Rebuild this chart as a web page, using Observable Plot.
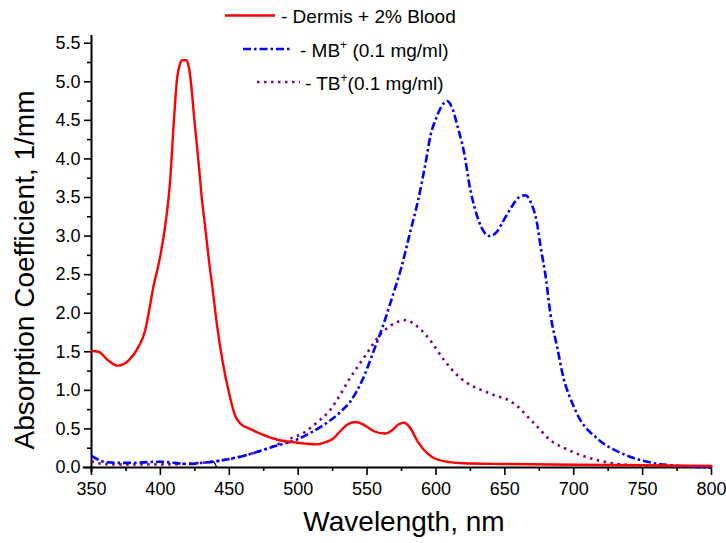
<!DOCTYPE html>
<html><head><meta charset="utf-8">
<script src="https://cdn.jsdelivr.net/npm/d3@7"></script>
<script src="https://cdn.jsdelivr.net/npm/@observablehq/plot@0.6"></script>
<style>body{margin:0;background:#fff;} svg{display:block}</style>
</head><body><div id="chart"></div>
<script>
// ---- data ----
const dermisWl  = [350,355,362,369,377,384,389,392,395,398,400,404,407,410,412,414,416,419,420.5,422,424.5,428,430,432.5,435,438,441,445,450,454.5,458,465,475,485,495,505,513,520,525,530,536,542,548,555,563,568,573,577,581,587,594,600,610,620,650,700,750,800];
const dermisAbs = [1.51,1.50,1.39,1.32,1.39,1.56,1.78,2.05,2.35,2.58,2.75,3.2,3.7,4.55,5.02,5.22,5.28,5.28,5.2,5.02,4.54,3.9,3.5,3.12,2.72,2.3,1.86,1.39,0.95,0.66,0.57,0.50,0.42,0.36,0.33,0.31,0.30,0.33,0.37,0.46,0.56,0.59,0.55,0.47,0.44,0.48,0.56,0.58,0.52,0.33,0.18,0.11,0.07,0.055,0.045,0.035,0.03,0.02];

const mbWl  = [350,355,360,370,380,390,400,410,420,430,440,450,460,470,480,490,500,510,520,530,538,547,555,562,569,575,581,587,593,596,600,604,608,612,616,620,625,631,635,639,644,649,655,660,665,669,673,676,680,683,688,693,697,700,704,710,715,720,726,734,744,750,760,770,785,800];
const mbAbs = [0.15,0.10,0.07,0.06,0.06,0.07,0.075,0.06,0.045,0.06,0.08,0.11,0.15,0.20,0.26,0.31,0.37,0.46,0.57,0.71,0.86,1.15,1.52,1.86,2.25,2.6,3.03,3.46,4.0,4.3,4.52,4.68,4.75,4.65,4.4,4.12,3.6,3.2,3.05,3.0,3.05,3.2,3.38,3.5,3.53,3.43,3.2,2.86,2.43,2.0,1.56,1.13,0.92,0.79,0.64,0.49,0.41,0.33,0.26,0.19,0.12,0.09,0.05,0.03,0.01,0.0];

const tbWl  = [350,355,365,380,400,420,440,460,480,495,504,514,523,528,538,548,560,568,578,585,594,606,617,625,635,645,652,660,667,673,682,697,714,730,750,800];
const tbAbs = [0.08,0.055,0.04,0.04,0.04,0.05,0.08,0.15,0.26,0.38,0.45,0.59,0.74,0.87,1.17,1.43,1.73,1.85,1.91,1.85,1.69,1.39,1.17,1.07,0.99,0.92,0.88,0.78,0.65,0.54,0.37,0.22,0.11,0.05,0.025,0.01];

const markWl  = [438.5,440,440.8];
const markAbs = [0.08,0.04,0.0];

const xTicks = [350,400,450,500,550,600,650,700,750,800];
const xMinor = [375,425,475,525,575,625,675,725,775];
const yTicks = [0.0,0.5,1.0,1.5,2.0,2.5,3.0,3.5,4.0,4.5,5.0,5.5];
const yMinor = [0.25,0.75,1.25,1.75,2.25,2.75,3.25,3.75,4.25,4.75,5.25];

const seriesNames = ["Dermis + 2% Blood", "MB", "TB"];
const xTitle = "Wavelength, nm";
const yTitle = "Absorption Coefficient, 1/mm";

const rows = (wl, v) => wl.map((w, i) => ({wl: w, a: v[i]}));
const font = "'Liberation Sans', Arial, Helvetica, sans-serif";
const dotDash = "2.5,4.5";
const dashDot = "8,3,2.5,3";

const svg = Plot.plot({
  width: 726, height: 543,
  marginLeft: 91, marginRight: 15, marginTop: 35, marginBottom: 76,
  style: {fontFamily: font, fontSize: "18px", color: "#000", background: "#fff", overflow: "visible"},
  x: {domain: [350, 800], label: null},
  y: {domain: [0, 5.6], label: null},
  marks: [
    Plot.axisX({ticks: xMinor, tickSize: 4, tickFormat: () => "", label: null, strokeWidth: 1.6}),
    Plot.axisX({ticks: xTicks, tickSize: 8, tickPadding: 7, tickFormat: d => String(d), label: null, fontSize: 18, strokeWidth: 1.6}),
    Plot.axisY({ticks: yMinor, tickSize: 4, tickFormat: () => "", label: null, strokeWidth: 1.6}),
    Plot.axisY({ticks: yTicks, tickSize: 7, tickPadding: 4, tickFormat: d => d.toFixed(1), label: null, fontSize: 18, strokeWidth: 1.6}),
    Plot.ruleY([0], {x1: 344, x2: 800, stroke: "#000", strokeWidth: 2}),
    Plot.ruleX([350], {y1: -0.07, y2: 5.6, stroke: "#000", strokeWidth: 2}),
    Plot.line(rows(markWl, markAbs), {x: "wl", y: "a", stroke: "#000", strokeWidth: 1.2}),
    Plot.line(rows(tbWl, tbAbs), {x: "wl", y: "a", stroke: "#800080", strokeWidth: 2.6, strokeDasharray: dotDash, strokeLinecap: "butt", curve: "monotone-x"}),
    Plot.line(rows(mbWl, mbAbs), {x: "wl", y: "a", stroke: "#0000ff", strokeWidth: 2.6, strokeDasharray: dashDot, strokeLinecap: "butt", curve: "monotone-x"}),
    Plot.line(rows(dermisWl, dermisAbs), {x: "wl", y: "a", stroke: "#ff0000", strokeWidth: 2.4, curve: "monotone-x"})
  ]
});

const s = d3.select(svg);
// axis titles
s.append("text").attr("x", 404).attr("y", 531).attr("text-anchor", "middle")
  .attr("font-family", font).attr("font-size", 28).attr("fill", "#000").text(xTitle);
s.append("text").attr("transform", "translate(34,270) rotate(-90)").attr("text-anchor", "middle")
  .attr("font-family", font).attr("font-size", 28).attr("fill", "#000").text(yTitle);

// legend
const leg = s.append("g").attr("font-family", font).attr("font-size", 19).attr("fill", "#000").attr("text-anchor", "start");
leg.append("line").attr("x1", 225).attr("x2", 275).attr("y1", 15.5).attr("y2", 15.5)
  .attr("stroke", "#ff0000").attr("stroke-width", 2.4);
leg.append("text").attr("x", 281).attr("y", 22.5).attr("text-anchor", "start").text("- " + seriesNames[0]);

leg.append("line").attr("x1", 243).attr("x2", 292).attr("y1", 49).attr("y2", 49)
  .attr("stroke", "#0000ff").attr("stroke-width", 2.6).attr("stroke-dasharray", dashDot);
const t2 = leg.append("text").attr("x", 300).attr("y", 57).attr("text-anchor", "start");
t2.append("tspan").text("- " + seriesNames[1]);
t2.append("tspan").attr("dy", -8).attr("font-size", 12).text("+");
t2.append("tspan").attr("dy", 8).text(" (0.1 mg/ml)");

leg.append("line").attr("x1", 257).attr("x2", 300).attr("y1", 82).attr("y2", 82)
  .attr("stroke", "#800080").attr("stroke-width", 2.6).attr("stroke-dasharray", dotDash);
const t3 = leg.append("text").attr("x", 305).attr("y", 89.5).attr("text-anchor", "start");
t3.append("tspan").text("- " + seriesNames[2]);
t3.append("tspan").attr("dy", -8).attr("font-size", 12).text("+");
t3.append("tspan").attr("dy", 8).text("(0.1 mg/ml)");

document.getElementById("chart").appendChild(svg);
</script>
</body></html>
